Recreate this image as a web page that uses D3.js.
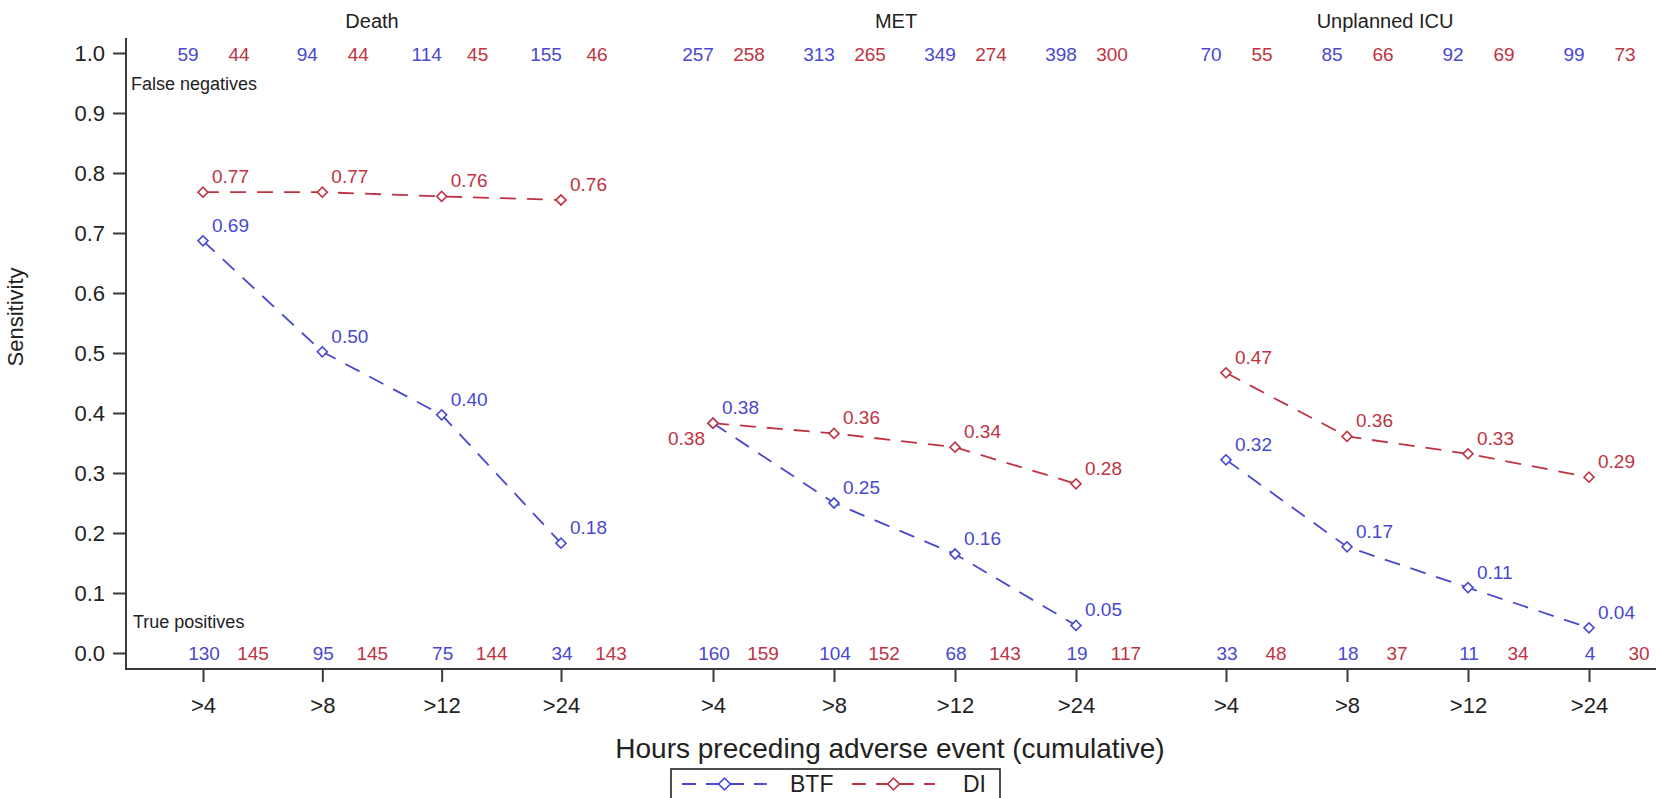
<!DOCTYPE html>
<html><head><meta charset="utf-8">
<script src="https://cdn.jsdelivr.net/npm/d3@7"></script>
<style>
body{margin:0;background:#fff}
text{font-family:"Liberation Sans",Arial,Helvetica,sans-serif}
</style>
</head><body>
<svg id="c" width="1656" height="798"></svg>
<script>
// ---- data ----
const panels = ["Death", "MET", "Unplanned ICU"];
const hours = [">4", ">8", ">12", ">24"];
const btfSens = [[0.687, 0.502, 0.397, 0.183], [0.383, 0.250, 0.165, 0.046], [0.322, 0.177, 0.109, 0.042]];
const diSens  = [[0.768, 0.768, 0.761, 0.755], [0.383, 0.366, 0.343, 0.282], [0.467, 0.361, 0.332, 0.293]];
const btfLabels = [["0.69", "0.50", "0.40", "0.18"], ["0.38", "0.25", "0.16", "0.05"], ["0.32", "0.17", "0.11", "0.04"]];
const diLabels  = [["0.77", "0.77", "0.76", "0.76"], ["0.38", "0.36", "0.34", "0.28"], ["0.47", "0.36", "0.33", "0.29"]];
const btfFN = [[59, 94, 114, 155], [257, 313, 349, 398], [70, 85, 92, 99]];
const diFN  = [[44, 44, 45, 46], [258, 265, 274, 300], [55, 66, 69, 73]];
const btfTP = [[130, 95, 75, 34], [160, 104, 68, 19], [33, 18, 11, 4]];
const diTP  = [[145, 145, 144, 143], [159, 152, 143, 117], [48, 37, 34, 30]];
const yTicks = [0, 0.1, 0.2, 0.3, 0.4, 0.5, 0.6, 0.7, 0.8, 0.9, 1.0];
const seriesNames = ["BTF", "DI"];

// ---- style / layout ----
const BLUE = "#4848d0", RED = "#c03342", AXIS = "#3a3a3a";
const svg = d3.select("#c");

const y = d3.scaleLinear().domain([0, 1]).range([653, 53]);
const panelRange = [[203, 561], [713, 1076], [1226, 1589]];
const titleCenter = [372, 896, 1385];
const xs = panelRange.map(r => d3.scalePoint().domain(hours).range(r));

const axisX0 = 126, axisY0 = 669;

// axes lines
svg.append("line").attr("x1", axisX0).attr("x2", axisX0).attr("y1", 38).attr("y2", axisY0 + 1)
  .attr("stroke", AXIS).attr("stroke-width", 2);
svg.append("line").attr("x1", axisX0).attr("x2", 1656).attr("y1", axisY0).attr("y2", axisY0)
  .attr("stroke", AXIS).attr("stroke-width", 2);

// y axis
const ya = svg.append("g").attr("transform", `translate(${axisX0},0)`)
  .call(d3.axisLeft(y).tickValues(yTicks).tickFormat(d3.format(".1f")).tickSize(13).tickPadding(8));
ya.select(".domain").remove();
ya.selectAll("line").attr("stroke", AXIS).attr("stroke-width", 2);
ya.selectAll("text").attr("font-size", 22).attr("fill", "#222");

// x axes per panel
xs.forEach((x, p) => {
  const g = svg.append("g").attr("transform", `translate(0,${axisY0})`)
    .call(d3.axisBottom(x).tickSize(13).tickPadding(15));
  g.select(".domain").remove();
  g.selectAll("line").attr("stroke", AXIS).attr("stroke-width", 2);
  g.selectAll("text").attr("font-size", 22).attr("fill", "#222");
  svg.append("text").attr("x", titleCenter[p]).attr("y", 28)
    .attr("text-anchor", "middle").attr("font-size", 20).attr("fill", "#222").text(panels[p]);
});

// axis titles
svg.append("text").attr("transform", "translate(23,317) rotate(-90)").attr("text-anchor", "middle")
  .attr("font-size", 22).attr("fill", "#222").text("Sensitivity");
svg.append("text").attr("x", 890).attr("y", 758).attr("text-anchor", "middle")
  .attr("font-size", 28).attr("fill", "#222").text("Hours preceding adverse event (cumulative)");

svg.append("text").attr("x", 131).attr("y", 90).attr("font-size", 18).attr("fill", "#222").text("False negatives");
svg.append("text").attr("x", 133).attr("y", 628).attr("font-size", 18).attr("fill", "#222").text("True positives");

const diamond = d3.symbol().type(d3.symbolSquare).size(50);
const line = d3.line().x(d => d[0]).y(d => d[1]);

function drawSeries(vals, color) {
  vals.forEach((arr, p) => {
    const pts = arr.map((v, i) => [xs[p](hours[i]), y(v)]);
    svg.append("path").attr("d", line(pts)).attr("fill", "none").attr("stroke", color)
      .attr("stroke-width", 1.8).attr("stroke-dasharray", "16,11");
  });
}
function drawMarkers(vals, labels, color, other) {
  vals.forEach((arr, p) => {
    arr.forEach((v, i) => {
      const cx = xs[p](hours[i]), cy = y(v);
      svg.append("path").attr("d", diamond()).attr("transform", `translate(${cx},${cy}) rotate(45)`)
        .attr("fill", "#fff").attr("stroke", color).attr("stroke-width", 1.6);
      const clash = other && Math.abs(other[p][i] - v) < 0.005;
      svg.append("text").attr("font-size", 19).attr("fill", color)
        .attr("x", clash ? cx - 8 : cx + 9).attr("y", clash ? cy + 22 : cy - 9)
        .attr("text-anchor", clash ? "end" : "start").text(labels[p][i]);
    });
  });
}
drawSeries(diSens, RED);
drawSeries(btfSens, BLUE);
drawMarkers(btfSens, btfLabels, BLUE, null);
drawMarkers(diSens, diLabels, RED, btfSens);

// counts
function drawCounts(arr, color, dx, yy) {
  arr.forEach((row, p) => row.forEach((v, i) => {
    svg.append("text").attr("x", xs[p](hours[i]) + dx).attr("y", yy).attr("text-anchor", "middle")
      .attr("font-size", 19).attr("fill", color).text(v);
  }));
}
drawCounts(btfFN, BLUE, -15, 61);
drawCounts(diFN, RED, 36, 61);
drawCounts(btfTP, BLUE, 1, 660);
drawCounts(diTP, RED, 50, 660);

// legend
const lg = svg.append("g");
lg.append("rect").attr("x", 671).attr("y", 769).attr("width", 329).attr("height", 40)
  .attr("fill", "#fff").attr("stroke", "#222").attr("stroke-width", 1.6);
const legItems = [{x0: 682, x1: 767, tx: 790, c: BLUE}, {x0: 852, x1: 935, tx: 963, c: RED}];
legItems.forEach((d, k) => {
  lg.append("line").attr("x1", d.x0).attr("x2", d.x1).attr("y1", 784).attr("y2", 784)
    .attr("stroke", d.c).attr("stroke-width", 1.8).attr("stroke-dasharray", "14,10");
  lg.append("path").attr("d", d3.symbol().type(d3.symbolSquare).size(70)())
    .attr("transform", `translate(${(d.x0 + d.x1) / 2},784) rotate(45)`)
    .attr("fill", "#fff").attr("stroke", d.c).attr("stroke-width", 1.6);
  lg.append("text").attr("x", d.tx).attr("y", 792).attr("font-size", 23).attr("fill", "#222").text(seriesNames[k]);
});
</script>
</body></html>
